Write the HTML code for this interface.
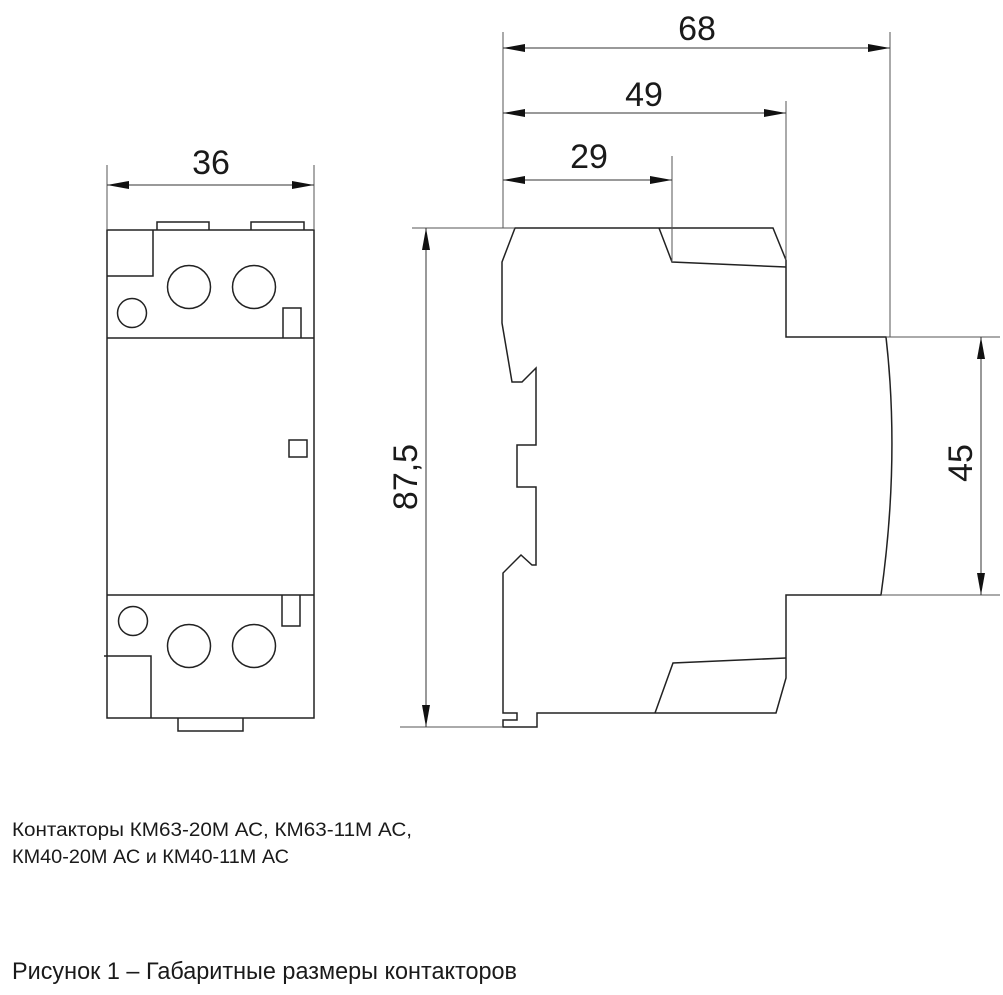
<!DOCTYPE html>
<html><head><meta charset="utf-8"><style>
html,body{margin:0;padding:0;background:#fff;}
svg{display:block;}
text{font-family:"Liberation Sans",sans-serif;fill:#1a1a1a;}
</style></head><body>
<svg width="1003" height="995" viewBox="0 0 1003 995" xmlns="http://www.w3.org/2000/svg">
<defs>
<marker id="a" viewBox="0 0 22 8" refX="22" refY="4" markerWidth="22" markerHeight="8" markerUnits="userSpaceOnUse" orient="auto-start-reverse"><path d="M0,0 L22,4 L0,8 Z" fill="#111"/></marker>
</defs>
<g fill="none" stroke="#222" stroke-width="1.5">
<rect x="107" y="230" width="207" height="488"/>
<path d="M157,230 V222 H209 V230 M251,230 V222 H304 V230"/>
<path d="M107,276 H153 V230"/>
<circle cx="189" cy="287" r="21.5"/><circle cx="254" cy="287" r="21.5"/>
<circle cx="132" cy="313" r="14.5"/>
<path d="M283,338 V308 H301 V338"/>
<line x1="107" y1="338" x2="314" y2="338"/>
<rect x="289" y="440" width="18" height="17"/>
<line x1="107" y1="595" x2="314" y2="595"/>
<path d="M282,595 V626 H300 V595"/>
<circle cx="133" cy="621" r="14.5"/>
<circle cx="189" cy="646" r="21.5"/><circle cx="254" cy="646" r="21.5"/>
<path d="M104,656 H151 V718"/>
<path d="M178,718 V731 H243 V718"/>
<path d="M515,228 H773 L786,260 V337 H886 Q900,460 881,595 H786 V658 V678 L776,713 H537 V727 H503 V720 H517 V713 H503 V573 L521,555 L532,565 H536 V487 H517 V445 H536 V368 L522,382 H512 L502,323 V262 Z"/>
<path d="M659,228 L672,262 L786,267"/>
<path d="M655,713 L673,663 L786,658"/>
</g>
<g fill="none" stroke="#555" stroke-width="1">
<line x1="107" y1="165" x2="107" y2="230"/>
<line x1="314" y1="165" x2="314" y2="230"/>
<line x1="503" y1="32" x2="503" y2="228"/>
<line x1="672" y1="156" x2="672" y2="262"/>
<line x1="786" y1="101" x2="786" y2="260"/>
<line x1="890" y1="32" x2="890" y2="337"/>
<line x1="412" y1="228" x2="515" y2="228"/>
<line x1="400" y1="727" x2="503" y2="727"/>
<line x1="886" y1="337" x2="1000" y2="337"/>
<line x1="881" y1="595" x2="1000" y2="595"/>
</g>
<g stroke="#333" stroke-width="1" marker-start="url(#a)" marker-end="url(#a)">
<line x1="107" y1="185" x2="314" y2="185"/>
<line x1="503" y1="48" x2="890" y2="48"/>
<line x1="503" y1="113" x2="786" y2="113"/>
<line x1="503" y1="180" x2="672" y2="180"/>
<line x1="426" y1="228" x2="426" y2="727"/>
<line x1="981" y1="337" x2="981" y2="595"/>
</g>
<g font-size="34" text-anchor="middle">
<text x="211" y="174">36</text>
<text x="697" y="40">68</text>
<text x="644" y="106">49</text>
<text x="589" y="168">29</text>
<text transform="translate(417,477) rotate(-90)">87,5</text>
<text transform="translate(972,463) rotate(-90)">45</text>
</g>
<text x="12" y="836" font-size="19" textLength="400" lengthAdjust="spacingAndGlyphs">Контакторы КМ63-20М АС, КМ63-11М АС,</text>
<text x="12" y="863" font-size="19" textLength="277" lengthAdjust="spacingAndGlyphs">КМ40-20М АС и КМ40-11М АС</text>
<text x="12" y="979" font-size="24" textLength="505" lengthAdjust="spacingAndGlyphs">Рисунок 1 – Габаритные размеры контакторов</text>
</svg>
</body></html>
